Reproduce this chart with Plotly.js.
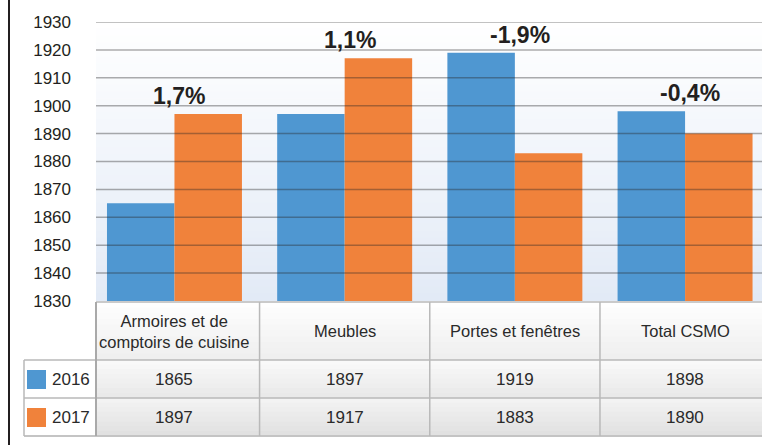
<!DOCTYPE html>
<html>
<head>
<meta charset="utf-8">
<script src="https://cdn.plot.ly/plotly-3.0.1.min.js"></script>
<style>
  body { margin: 0; background: #fff; }
  #chart { width: 762px; height: 445px; }
</style>
</head>
<body>
<div id="chart"></div>
<script>
// data
var categories = ["Armoires et de<br>comptoirs de cuisine", "Meubles", "Portes et fenêtres", "Total CSMO"];
var years = ["2016", "2017"];
var values2016 = [1865, 1897, 1919, 1898];
var values2017 = [1897, 1917, 1883, 1890];
var changeLabels = ["1,7%", "1,1%", "-1,9%", "-0,4%"];
var yTicks = [1830, 1840, 1850, 1860, 1870, 1880, 1890, 1900, 1910, 1920, 1930];

var colors = ["#4f97d1", "#f0823b"];
var seriesValues = [values2016, values2017];
var FONT = "Liberation Sans, Arial, sans-serif";
var TEXT = "#231f20";

// pixel geometry helpers (plot area: x 96..762, y 22..301)
var W = 762, H = 445, L = 96, T = 22, B = 301;
function px(x) { return (x - L) / (W - L); }
function py(y) { return (B - y) / (B - T); }

function hex(c) { return [parseInt(c.substr(1, 2), 16), parseInt(c.substr(3, 2), 16), parseInt(c.substr(5, 2), 16)]; }
function mix(a, b, t) {
  var A = hex(a), Bc = hex(b);
  return "rgb(" + [0, 1, 2].map(function(i) { return Math.round(A[i] + (Bc[i] - A[i]) * t); }).join(",") + ")";
}

var shapes = [];
// vertical gradient made of bands, top colour -> bottom colour
function gradient(x0, x1, xref, y0, y1, cTop, cBottom, n) {
  for (var i = 0; i < n; i++) {
    var a = y1 + (y0 - y1) * i / n, b = y1 + (y0 - y1) * (i + 1) / n;
    shapes.push({
      type: "rect", layer: "below", xref: xref, yref: "paper",
      x0: x0, x1: x1, y0: b, y1: a + (i ? 0.002 : 0),
      line: { width: 0 }, fillcolor: mix(cTop, cBottom, (i + 0.5) / n)
    });
  }
}
function line(x0, x1, xref, y0, y1, color, width, layer) {
  shapes.push({
    type: "line", layer: layer || "above", xref: xref, yref: "paper",
    x0: x0, x1: x1, y0: y0, y1: y1, line: { color: color, width: width }
  });
}

// plot background
gradient(0, 1, "paper", 0, 1, "#ffffff", "#e2eaf6", 40);

// gridlines drawn over the bars
yTicks.slice(1).forEach(function(v) {
  shapes.push({
    type: "line", layer: "above", xref: "paper", yref: "y",
    x0: 0, x1: 1, y0: v, y1: v,
    line: { color: "rgba(40,40,40,0.38)", width: 1.5 }
  });
});

// table below the plot
var yHeadTop = py(302), yRow1 = py(360), yRow2 = py(398), yBottom = py(436);
gradient(0, 1, "paper", yRow1, yHeadTop, "#ffffff", "#eeeeee", 10);
gradient(0, 1, "paper", yRow2, yRow1, "#fafafa", "#e8e8e8", 8);
gradient(0, 1, "paper", yBottom, yRow2, "#f4f4f4", "#e0e0e0", 8);
var gridCol = "#b9b9b9";
line(0, 1, "paper", yHeadTop, yHeadTop, gridCol, 1.5);
line(px(24), 1, "paper", yRow1, yRow1, gridCol, 1.5);
line(px(24), 1, "paper", yRow2, yRow2, gridCol, 1.5);
line(px(24), 1, "paper", yBottom, yBottom, "#c4c4c4", 2);
line(px(24), px(24), "paper", yBottom, yRow1, gridCol, 1.5);
line(0, 0, "paper", yBottom, yHeadTop, "#a9a9a9", 2);
[0.5, 1.5, 2.5].forEach(function(x) {
  line(x, x, "x", yBottom, yHeadTop, gridCol, 1.5);
});
// legend swatches in the row headers
[[yRow1, py(370), py(389)], [yRow2, py(408), py(427)]].forEach(function(r, i) {
  shapes.push({
    type: "rect", layer: "above", xref: "paper", yref: "paper",
    x0: px(27), x1: px(46), y0: r[2], y1: r[1],
    line: { width: 0 }, fillcolor: colors[i]
  });
});
// left frame line
line(px(9), px(9), "paper", py(445), py(0), TEXT, 2);

var annotations = [];
// change labels above each group
categories.forEach(function(c, i) {
  annotations.push({
    x: i, y: Math.max(values2016[i], values2017[i]), xref: "x", yref: "y",
    text: "<b>" + changeLabels[i] + "</b>", showarrow: false,
    xanchor: "center", yanchor: "bottom", xshift: 5, yshift: 3,
    font: { family: FONT, size: 23, color: TEXT }
  });
  annotations.push({
    x: i, y: py(331), xref: "x", yref: "paper", text: c, showarrow: false,
    xanchor: "center", yanchor: "middle",
    font: { family: FONT, size: 16.5, color: "#2a2a2a" }
  });
  seriesValues.forEach(function(vals, k) {
    annotations.push({
      x: i, y: k ? py(417) : py(379), xref: "x", yref: "paper",
      text: String(vals[i]), showarrow: false, xanchor: "center", yanchor: "middle",
      font: { family: FONT, size: 17, color: "#2a2a2a" }
    });
  });
});
years.forEach(function(yr, k) {
  annotations.push({
    x: px(50), y: k ? py(417) : py(379), xref: "paper", yref: "paper",
    text: yr, showarrow: false, xanchor: "left", yanchor: "middle",
    font: { family: FONT, size: 17, color: "#2a2a2a" }
  });
});

var xIdx = categories.map(function(c, i) { return i; });
var traces = seriesValues.map(function(vals, k) {
  return {
    type: "bar", x: xIdx, y: vals, name: years[k],
    marker: { color: colors[k], line: { width: 0 } },
    hoverinfo: "skip"
  };
});

var layout = {
  width: W, height: H,
  margin: { l: L, r: 0, t: T, b: H - B, pad: 0 },
  paper_bgcolor: "#ffffff",
  plot_bgcolor: "rgba(0,0,0,0)",
  showlegend: false,
  barmode: "group",
  bargap: 0.207,
  bargroupgap: 0,
  font: { family: FONT, color: TEXT },
  xaxis: {
    range: [-0.461, 3.452], showticklabels: false, showgrid: false,
    zeroline: false, showline: false, ticks: "", fixedrange: true
  },
  yaxis: {
    range: [1830, 1930], tickvals: yTicks, ticktext: yTicks.map(String),
    showgrid: false, zeroline: false, showline: false, ticks: "",
    ticklabelstandoff: 24,
    tickfont: { family: FONT, size: 17, color: TEXT }, fixedrange: true
  },
  shapes: shapes,
  annotations: annotations
};

Plotly.newPlot("chart", traces, layout, { displayModeBar: false, staticPlot: true });
</script>
</body>
</html>
